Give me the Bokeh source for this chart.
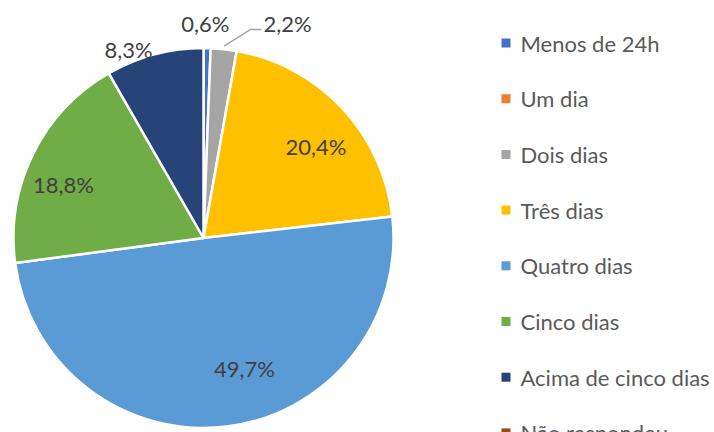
import math
from bokeh.plotting import figure
from bokeh.models import Range1d, ColumnDataSource
from bokeh.core.properties import value
from bokeh.embed import file_html
from bokeh.resources import INLINE

# ---- data ----
categories = ["Menos de 24h", "Um dia", "Dois dias", "Três dias",
              "Quatro dias", "Cinco dias", "Acima de cinco dias", "Não respondeu"]
percent = [0.6, 0.0, 2.2, 20.4, 49.7, 18.8, 8.3, 0.0]
colors = ["#4472C4", "#ED7D31", "#A5A5A5", "#FFC000",
          "#5B9BD5", "#70AD47", "#264478", "#9E480E"]

# label placement (style): angle (deg clockwise from top) and radius factor
label_angle = [0.5, None, 21.4, 50.9, 162.6, 290.9, 338.3, None]
label_rfac = [1.129, None, 1.213, 0.763, 0.72, 0.789, 1.068, None]

W, H = 714, 432
FONT = "Lato"
cx, cy, R = 203.0, -237.5, 190.0

p = figure(width=W, height=H, output_backend="svg", toolbar_location=None,
           x_range=Range1d(0, W), y_range=Range1d(-H, 0),
           min_border=0, outline_line_color=None)
p.axis.visible = False
p.grid.visible = False
p.background_fill_color = "white"
p.border_fill_color = "white"

total = sum(percent)
starts, ends, cols, mids = [], [], [], []
cum = 0.0
for v, c in zip(percent, colors):
    a0 = math.pi / 2 - 2 * math.pi * cum / total
    cum += v
    a1 = math.pi / 2 - 2 * math.pi * cum / total
    if v > 0:
        starts.append(a0); ends.append(a1); cols.append(c)
    mids.append((a0 + a1) / 2)

src = ColumnDataSource(dict(x=[cx] * len(starts), y=[cy] * len(starts),
                            s=starts, e=ends, c=cols))
p.wedge(x="x", y="y", radius=R, start_angle="s", end_angle="e",
        direction="clock", fill_color="c", line_color="white",
        line_width=2.5, source=src)

# data labels
lx, ly, lt = [], [], []
for v, ang, rf in zip(percent, label_angle, label_rfac):
    if v <= 0:
        continue
    t = math.radians(ang)
    lx.append(cx + rf * R * math.sin(t))
    ly.append(cy + rf * R * math.cos(t))
    lt.append(f"{v:.1f}".replace(".", ",") + "%")
p.text(x=lx, y=ly, text=lt, text_font=value(FONT), text_font_size="22px",
       text_color="#404040", text_align="center", text_baseline="middle")

# leader line for "Dois dias"
i = categories.index("Dois dias")
m = mids[i]
t = math.radians(label_angle[i])
lab_x = cx + label_rfac[i] * R * math.sin(t)
lab_y = cy + label_rfac[i] * R * math.cos(t)
p.line(x=[cx + (R + 3) * math.cos(m), lab_x - 37, lab_x - 26],
       y=[cy + (R + 3) * math.sin(m), lab_y - 6, lab_y - 6],
       line_color="#A6A6A6", line_width=1.5)

# legend
leg_y0, leg_dy = -42.5, -55.7
leg_ys = [leg_y0 + k * leg_dy for k in range(len(categories))]
p.rect(x=[505.5] * len(categories), y=leg_ys, width=9, height=9,
       fill_color=colors, line_color=None)
p.text(x=[520] * len(categories), y=leg_ys, text=categories,
       text_font=value(FONT), text_font_size="22px", text_color="#595959",
       text_align="left", text_baseline="middle")

open("out.html", "w").write(file_html(p, INLINE))
